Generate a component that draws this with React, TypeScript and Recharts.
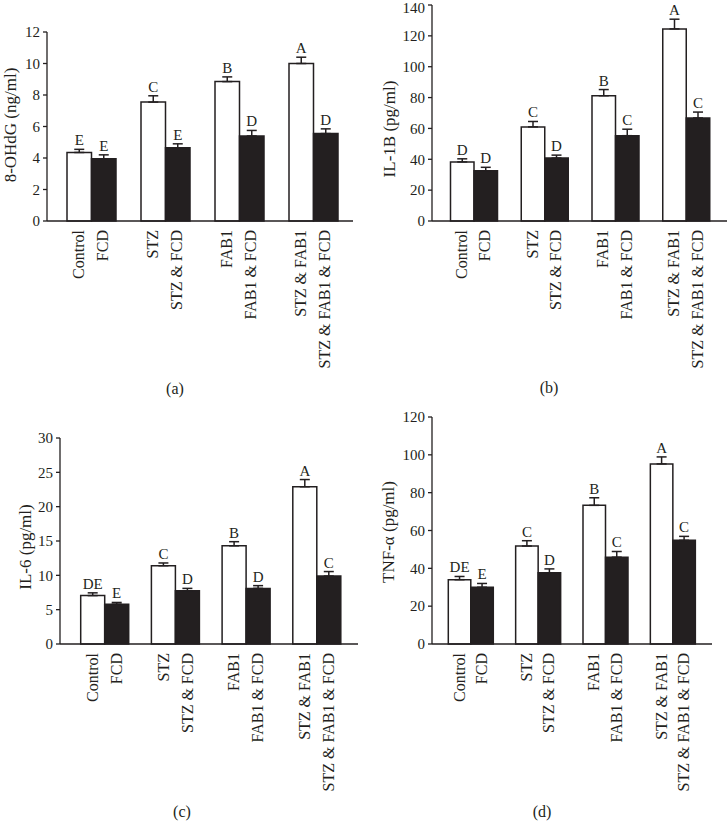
import React from 'react';
import { BarChart, Bar, XAxis, YAxis, ErrorBar, LabelList } from 'recharts';

const groups = ['Control', 'STZ', 'FAB1', 'STZ & FAB1'];
const whiteLabels = ['Control', 'STZ', 'FAB1', 'STZ & FAB1'];
const blackLabels = ['FCD', 'STZ & FCD', 'FAB1 & FCD', 'STZ & FAB1 & FCD'];

// (a) 8-OHdG
const ohdgWhite = [4.35, 7.55, 8.85, 10.0];
const ohdgWhiteErr = [0.2, 0.4, 0.3, 0.4];
const ohdgBlack = [3.95, 4.65, 5.4, 5.55];
const ohdgBlackErr = [0.25, 0.25, 0.35, 0.3];
const ohdgWhiteLetters = ['E', 'C', 'B', 'A'];
const ohdgBlackLetters = ['E', 'E', 'D', 'D'];
const ohdgTicks = [0, 2, 4, 6, 8, 10, 12];

// (b) IL-1B
const il1bWhite = [38.3, 61, 81.2, 124.5];
const il1bWhiteErr = [2, 3.5, 4, 6.3];
const il1bBlack = [32.5, 40.8, 55.3, 66.8];
const il1bBlackErr = [2.3, 1.9, 4.2, 3.8];
const il1bWhiteLetters = ['D', 'C', 'B', 'A'];
const il1bBlackLetters = ['D', 'D', 'C', 'C'];
const il1bTicks = [0, 20, 40, 60, 80, 100, 120, 140];

// (c) IL-6
const il6White = [7.05, 11.4, 14.3, 22.9];
const il6WhiteErr = [0.4, 0.4, 0.6, 1.05];
const il6Black = [5.8, 7.75, 8.1, 9.9];
const il6BlackErr = [0.25, 0.35, 0.4, 0.65];
const il6WhiteLetters = ['DE', 'C', 'B', 'A'];
const il6BlackLetters = ['E', 'D', 'D', 'C'];
const il6Ticks = [0, 5, 10, 15, 20, 25, 30];

// (d) TNF-α
const tnfWhite = [34, 51.8, 73.3, 95.2];
const tnfWhiteErr = [1.7, 2.8, 4, 3.7];
const tnfBlack = [30, 37.6, 45.9, 54.8];
const tnfBlackErr = [2, 2.1, 3, 2.1];
const tnfWhiteLetters = ['DE', 'C', 'B', 'A'];
const tnfBlackLetters = ['E', 'D', 'C', 'C'];
const tnfTicks = [0, 20, 40, 60, 80, 100, 120];

const INK = '#231f20';
const SERIF = '"Liberation Serif", "Times New Roman", serif';

function buildData(w: number[], we: number[], b: number[], be: number[]) {
  return groups.map((g, i) => ({
    group: g,
    white: w[i],
    whiteErr: [0, we[i]],
    black: b[i],
    blackErr: [0, be[i]],
  }));
}

const makeLetter = (letters: string[], vals: number[], errs: number[]) => (props: any) => {
  const vb = props.viewBox || props;
  const idx = props.index;
  if (idx == null || vb == null) return null;
  const ppu = Math.abs(vb.height) / vals[idx];
  const top = Math.min(vb.y, vb.y + vb.height);
  const ty = top - errs[idx] * ppu - 4;
  return (
    <text x={vb.x + vb.width / 2} y={ty} textAnchor="middle" fill={INK} fontSize={15} fontFamily={SERIF}>
      {letters[idx]}
    </text>
  );
};

const makeXTick = (barSize: number) => (props: any) => {
  const { x, y, payload } = props;
  const i = payload.index;
  const y0 = y + 9;
  const items = [
    { cx: x - barSize / 2, t: whiteLabels[i] },
    { cx: x + barSize / 2, t: blackLabels[i] },
  ];
  return (
    <g>
      {items.map((it, k) => (
        <text
          key={k}
          x={it.cx}
          y={y0}
          dy="0.3em"
          transform={`rotate(-90, ${it.cx}, ${y0})`}
          textAnchor="end"
          fill={INK}
          fontSize={16}
          fontFamily={SERIF}
        >
          {it.t}
        </text>
      ))}
    </g>
  );
};

const YTick = (props: any) => {
  const { x, y, payload } = props;
  const yy = Math.max(y, 8);
  return (
    <text x={x} y={yy} dy="0.35em" textAnchor="end" fill={INK} fontSize={15} fontFamily={SERIF}>
      {payload.value}
    </text>
  );
};

type PanelProps = {
  left: number; top: number; width: number; height: number;
  marginTop: number; marginRight: number; yWidth: number; xHeight: number;
  padL: number; padR: number; barSize: number;
  ticks: number[];
  w: number[]; we: number[]; b: number[]; be: number[];
  wl: string[]; bl: string[];
};

function Panel(p: PanelProps) {
  const data = buildData(p.w, p.we, p.b, p.be);
  const max = p.ticks[p.ticks.length - 1];
  return (
    <div style={{ position: 'absolute', left: p.left, top: p.top }}>
      <BarChart
        width={p.width}
        height={p.height}
        data={data}
        margin={{ top: p.marginTop, right: p.marginRight, left: 0, bottom: 0 }}
        barGap={0}
        barSize={p.barSize}
      >
        <XAxis
          dataKey="group"
          type="category"
          height={p.xHeight}
          padding={{ left: p.padL, right: p.padR }}
          axisLine={{ stroke: INK, strokeWidth: 1.3 }}
          tickLine={false}
          tickSize={0}
          tickMargin={0}
          interval={0}
          tick={makeXTick(p.barSize)}
        />
        <YAxis
          type="number"
          domain={[0, max]}
          ticks={p.ticks}
          width={p.yWidth}
          tickSize={4}
          tickMargin={3}
          interval={0}
          axisLine={{ stroke: INK, strokeWidth: 1.3 }}
          tickLine={{ stroke: INK, strokeWidth: 1.3 }}
          tick={<YTick />}
        />
        <Bar dataKey="white" fill="#ffffff" stroke={INK} strokeWidth={1.5} isAnimationActive={false}>
          <ErrorBar dataKey="whiteErr" width={5} stroke={INK} strokeWidth={1.5} direction="y" />
          <LabelList dataKey="white" content={makeLetter(p.wl, p.w, p.we)} />
        </Bar>
        <Bar dataKey="black" fill={INK} stroke={INK} strokeWidth={1.5} isAnimationActive={false}>
          <ErrorBar dataKey="blackErr" width={5} stroke={INK} strokeWidth={1.5} direction="y" />
          <LabelList dataKey="black" content={makeLetter(p.bl, p.b, p.be)} />
        </Bar>
      </BarChart>
    </div>
  );
}

function Caption({ x, y, text, rotate, size }: { x: number; y: number; text: string; rotate?: boolean; size: number }) {
  return (
    <div
      style={{
        position: 'absolute',
        left: x,
        top: y,
        transform: `translate(-50%, -50%)${rotate ? ' rotate(-90deg)' : ''}`,
        whiteSpace: 'nowrap',
        fontFamily: SERIF,
        fontSize: size,
        lineHeight: 1,
        color: INK,
      }}
    >
      {text}
    </div>
  );
}

export default function App() {
  return (
    <div style={{ position: 'absolute', left: 0, top: 0, width: 728, height: 834, background: '#fff', overflow: 'hidden' }}>
      <Panel left={0} top={0} width={364} height={400} marginTop={32} marginRight={11} yWidth={47} xHeight={179}
        padL={7} padR={3} barSize={24.5} ticks={ohdgTicks}
        w={ohdgWhite} we={ohdgWhiteErr} b={ohdgBlack} be={ohdgBlackErr} wl={ohdgWhiteLetters} bl={ohdgBlackLetters} />
      <Panel left={364} top={0} width={364} height={400} marginTop={5} marginRight={1} yWidth={68} xHeight={179}
        padL={6.5} padR={5.5} barSize={23.5} ticks={il1bTicks}
        w={il1bWhite} we={il1bWhiteErr} b={il1bBlack} be={il1bBlackErr} wl={il1bWhiteLetters} bl={il1bBlackLetters} />
      <Panel left={0} top={400} width={364} height={434} marginTop={38} marginRight={6} yWidth={60} xHeight={190}
        padL={9.7} padR={5.5} barSize={24} ticks={il6Ticks}
        w={il6White} we={il6WhiteErr} b={il6Black} be={il6BlackErr} wl={il6WhiteLetters} bl={il6BlackLetters} />
      <Panel left={364} top={400} width={364} height={434} marginTop={17} marginRight={16} yWidth={68} xHeight={190}
        padL={5.3} padR={5.3} barSize={22.5} ticks={tnfTicks}
        w={tnfWhite} we={tnfWhiteErr} b={tnfBlack} be={tnfBlackErr} wl={tnfWhiteLetters} bl={tnfBlackLetters} />

      <Caption x={10} y={125} text="8-OHdG (ng/ml)" rotate size={17} />
      <Caption x={389} y={129} text="IL-1B (pg/ml)" rotate size={17} />
      <Caption x={25} y={547} text="IL-6 (pg/ml)" rotate size={17} />
      <Caption x={388} y={532} text="TNF-α (pg/ml)" rotate size={17} />

      <Caption x={175} y={389} text="(a)" size={16} />
      <Caption x={549} y={388} text="(b)" size={16} />
      <Caption x={182} y={812} text="(c)" size={16} />
      <Caption x={542} y={812} text="(d)" size={16} />
    </div>
  );
}
